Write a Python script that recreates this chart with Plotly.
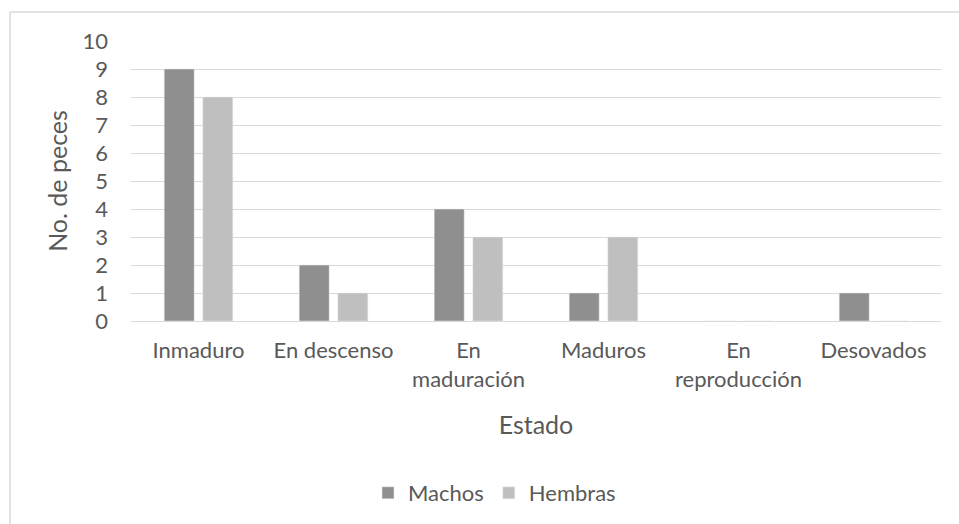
import plotly.graph_objects as go

categories = ["Inmaduro", "En descenso", "En<br>maduración", "Maduros", "En<br>reproducción", "Desovados"]
machos = [9, 2, 4, 1, 0, 1]
hembras = [8, 1, 3, 3, 0, 0]
y_ticks = list(range(0, 11))

W, H = 959, 524
L, R, T, B = 131, 941, 41, 322
pw, ph = R - L, B - T

def px(x):
    return (x - L) / pw

def py(y):
    return (B - y) / ph

FONT = "Lato"
TXT = "#595959"
GRID = "#d9d9d9"

fig = go.Figure()
fig.add_trace(go.Bar(name="Machos", x=categories, y=machos, marker_color="#8f8f8f"))
fig.add_trace(go.Bar(name="Hembras", x=categories, y=hembras, marker_color="#bfbfbf"))

fig.update_layout(
    width=W, height=H,
    margin=dict(l=L, r=W - R, t=T, b=H - B, pad=0),
    paper_bgcolor="white", plot_bgcolor="white",
    barmode="group", bargap=0.428, bargroupgap=0.223,
    font=dict(family=FONT, color=TXT, size=22),
    showlegend=True,
    legend=dict(orientation="h", x=px(494.5), xanchor="center", y=py(493), yanchor="middle",
                font=dict(size=22, color=TXT), traceorder="normal"),
    xaxis=dict(showgrid=False, showline=False, zeroline=False, ticks="",
               tickfont=dict(size=22, color=TXT), ticklabelstandoff=14,
               title=dict(text="Estado", font=dict(size=25, color=TXT), standoff=25)),
    yaxis=dict(range=[0, 10], tickvals=y_ticks, showgrid=True, gridcolor=GRID, gridwidth=1,
               zeroline=True, zerolinecolor=GRID, zerolinewidth=1, showline=False, ticks="",
               tickfont=dict(size=22, color=TXT), ticklabelstandoff=22,
               title=dict(text="No. de peces", font=dict(size=25, color=TXT), standoff=7)),
    shapes=[
        dict(type="line", xref="paper", yref="paper", x0=px(10), x1=px(1000), y0=py(12), y1=py(12),
             line=dict(color=GRID, width=1.5)),
        dict(type="line", xref="paper", yref="paper", x0=px(10), x1=px(10), y0=py(12), y1=py(560),
             line=dict(color=GRID, width=1.5)),
    ],
)

fig.write_html("out.html")
